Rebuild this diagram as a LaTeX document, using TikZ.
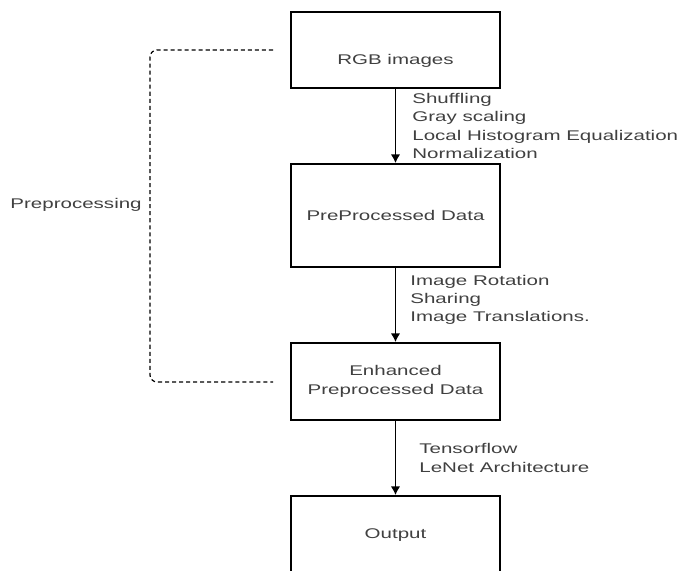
\documentclass[tikz,border=0pt]{standalone}
\usepackage{fontspec}
\setmainfont{Liberation Sans}[FakeStretch=1.46]
\usepackage{xcolor}
\usetikzlibrary{positioning, arrows.meta}

\definecolor{textgray}{HTML}{404040}

\begin{document}
\begin{tikzpicture}[>={Latex[length=5pt, width=5.5pt]}, x=0.02cm, y=-0.02cm,
    font=\fontsize{8pt}{10.4pt}\selectfont,
    procbox/.style={draw=black, line width=1pt, minimum width=4.18cm, text=textgray, align=center},
    edgetext/.style={text=textgray, align=left, inner sep=0pt}]
    % 1. Khung hình
    \clip (0, 0) rectangle (681, 571);

    % 2. Các khối
    \node[procbox, minimum height=1.52cm] (rgb) at (395.5, 50) {\raisebox{-8.5pt}[0pt][0pt]{RGB images}};
    \node[procbox, minimum height=2.06cm] (prep) at (395.5, 215.5) {PreProcessed Data};
    \node[procbox, minimum height=1.54cm] (enh) at (395.5, 381.5) {Enhanced\\Preprocessed Data};
    \node[procbox, minimum height=1.56cm] (out) at (395.5, 535) {Output};

    % 3. Các mũi tên và nhãn
    \draw[->, line width=1pt] (rgb) -- (prep)
        node[edgetext, midway, right=16] {Shuffling\\Gray scaling\\Local Histogram Equalization\\Normalization};
    \draw[->, line width=1pt] (prep) -- (enh)
        node[edgetext, midway, right=14, yshift=3] {Image Rotation\\Sharing\\Image Translations.};
    \draw[->, line width=1pt] (enh) -- (out)
        node[edgetext, midway, right=23] {Tensorflow\\LeNet Architecture};

    % 4. Đường nét đứt bao nhóm tiền xử lý
    \coordinate (topEnd) at (273, 50);
    \coordinate (botEnd) at (273, 382);
    \draw[black, line width=0.7pt, dash pattern=on 2.3pt off 1.7pt, rounded corners=4]
        (topEnd) -- (150, 50) -- (150, 382) -- (botEnd);
    \node[text=textgray, anchor=east, inner sep=0pt] (prelabel) at (142, 205) {Preprocessing};

\end{tikzpicture}
\end{document}
